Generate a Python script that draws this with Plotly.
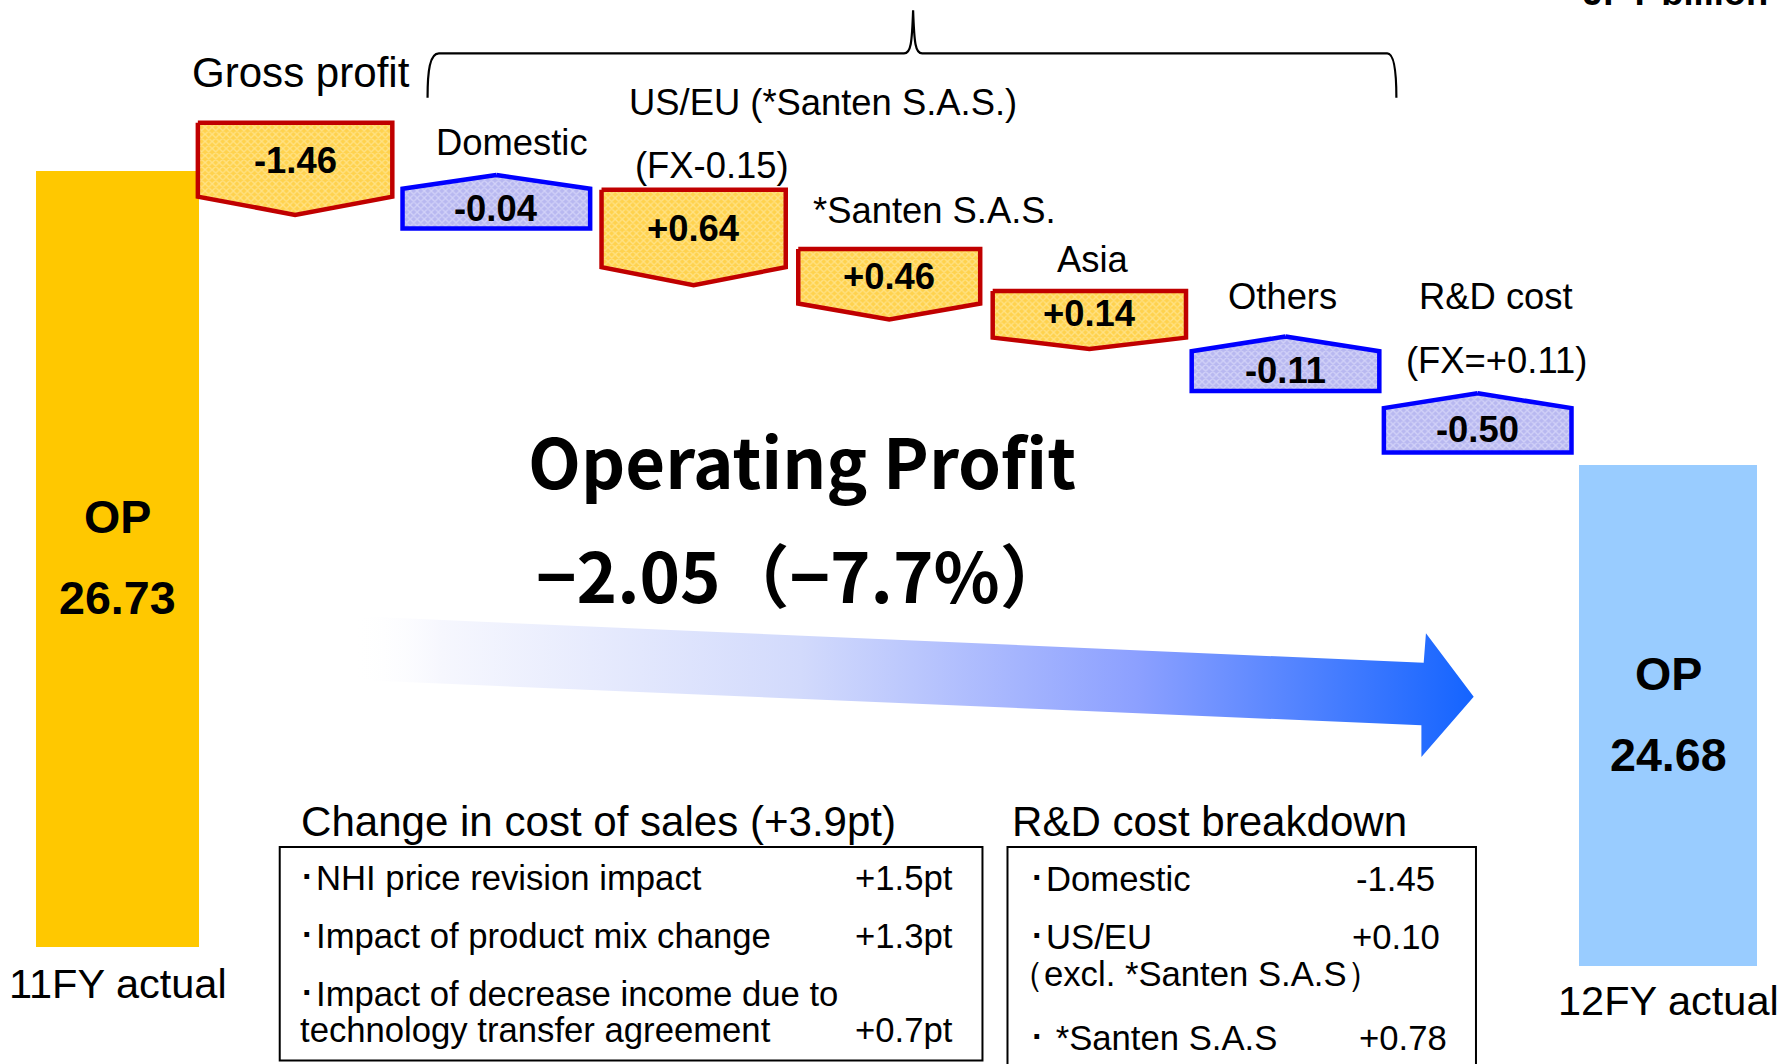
import plotly.graph_objects as go

# ---------------- data ----------------
unit_label = "JPY billion"
bar_labels = ["11FY actual", "12FY actual"]
bar_values = [26.73, 24.68]

items = ["Gross profit", "Domestic", "US/EU (*Santen S.A.S.)", "*Santen S.A.S.",
         "Asia", "Others", "R&D cost"]
item_values = [-1.46, -0.04, 0.64, 0.46, 0.14, -0.11, -0.50]
item_notes = ["", "", "(FX-0.15)", "", "", "", "(FX=+0.11)"]
item_kind = ["down", "up", "down", "down", "down", "up", "up"]

op_title = "Operating Profit"

cos_title = "Change in cost of sales (+3.9pt)"
cos_items = ["･NHI price revision impact", "･Impact of product mix change",
             "･Impact of decrease income due to\ntechnology transfer agreement"]
cos_values = [1.5, 1.3, 0.7]

rd_title = "R&D cost breakdown"
rd_items = ["･Domestic", "･US/EU\n（excl. *Santen S.A.S）", "･ *Santen S.A.S"]
rd_values = [-1.45, 0.10, 0.78]

# ---------------- layout (reference units) ----------------
W, H = 1783, 1064
RW, RH = 1568, 936
K = W / RW


def px(n):
    return n * K


FONT = "Liberation Sans, Arial, sans-serif"
JFONT = "Noto Sans CJK JP, sans-serif"

bar_x0 = [32, 1389]
bar_x1 = [175, 1545]
bar_top = [150, 409]
bar_bot = [833, 850]
bar_colors = ["#FFC800", "#99CCFF"]
bar_op_y = [455, 593]
bar_val_y = [526, 664]
bar_lab_y = [865, 880]

box_x0 = [174, 354, 529, 702, 873, 1048, 1217]
box_x1 = [345, 519, 691, 862, 1043, 1213, 1382]
box_top = [108, 154, 167, 219, 256, 296, 346]
box_mid = [173, 166, 235, 267, 297, 309, 359]
box_bot = [189, 201, 251, 281, 307, 344, 398]
box_text_y = [141, 183, 201, 243, 276, 326, 378]

label_x = [265, 450, 724, 822, 961, 1128, 1316]
label_y = [64, 125, 90, 185, 228, 261, 261]
label_size = [37, 32, 32, 32, 32, 32, 32]
note_x = [0, 0, 626, 0, 0, 0, 1316]
note_y = [0, 0, 146, 0, 0, 0, 317]

styles = {
    "down": dict(line="#C00000", bg="#FFD24D", fg="#FFF2C0"),
    "up": dict(line="#0000FF", bg="#B8B8F0", fg="#ECECFF"),
}

arrow_x = [310, 1252, 1254, 1296, 1250, 1250, 310]
arrow_y = [542, 583, 557, 613, 666, 638, 598]

fig = go.Figure()

# summary bars
for i in range(2):
    fig.add_trace(go.Bar(
        x=[(bar_x0[i] + bar_x1[i]) / 2], y=[bar_bot[i] - bar_top[i]], base=[bar_top[i]],
        width=[bar_x1[i] - bar_x0[i]], marker=dict(color=bar_colors[i], line=dict(width=0)),
        hoverinfo="skip", showlegend=False))

# gradient arrow
fig.add_trace(go.Scatter(
    x=arrow_x, y=arrow_y, mode="lines", fill="toself", line=dict(width=0, color="rgba(0,0,0,0)"),
    fillgradient=dict(type="horizontal", colorscale=[
        [0.0, "rgba(255,255,255,0)"], [0.08, "rgb(246,247,254)"], [0.4, "rgb(210,218,252)"],
        [0.7, "rgb(140,160,255)"], [1.0, "rgb(20,100,255)"]]),
    hoverinfo="skip", showlegend=False))

# pentagon boxes
for i, v in enumerate(item_values):
    x0, x1 = box_x0[i], box_x1[i]
    xc = (x0 + x1) / 2
    if item_kind[i] == "down":
        xs = [x0, x1, x1, xc, x0, x0]
        ys = [box_top[i], box_top[i], box_mid[i], box_bot[i], box_mid[i], box_top[i]]
    else:
        xs = [xc, x1, x1, x0, x0, xc]
        ys = [box_top[i], box_mid[i], box_bot[i], box_bot[i], box_mid[i], box_top[i]]
    st = styles[item_kind[i]]
    fig.add_trace(go.Scatter(
        x=xs, y=ys, mode="lines", fill="toself",
        line=dict(color=st["line"], width=4.5),
        fillcolor=st["bg"],
        fillpattern=dict(shape="x", bgcolor=st["bg"], fgcolor=st["fg"], size=5, solidity=0.45),
        hoverinfo="skip", showlegend=False))

ann = []


def text(x, y, s, size, bold=False, xanchor="center", font=FONT, color="#000000"):
    ann.append(dict(
        x=x, y=y, xref="x", yref="y", text=("<b>%s</b>" % s) if bold else s,
        showarrow=False, xanchor=xanchor, yanchor="middle",
        font=dict(family=font, size=px(size), color=color)))


# box values and labels
for i, v in enumerate(item_values):
    text((box_x0[i] + box_x1[i]) / 2, box_text_y[i], f"{v:+.2f}", 32, bold=True)
    text(label_x[i], label_y[i], items[i], label_size[i])
    if item_notes[i]:
        text(note_x[i], note_y[i], item_notes[i], 32)

# summary bar texts
for i in range(2):
    xc = (bar_x0[i] + bar_x1[i]) / 2
    text(xc, bar_op_y[i], "OP", 41, bold=True)
    text(xc, bar_val_y[i], f"{bar_values[i]:.2f}", 41, bold=True)
    text(xc, bar_lab_y[i], bar_labels[i], 36.5)

# operating profit headline
chg = bar_values[1] - bar_values[0]
pct = chg / bar_values[0] * 100
text(705, 404, op_title, 60.5, bold=True, font=JFONT)
text(706, 504, f"{chg:.2f}（{pct:.1f}%）".replace("-", "−"), 60.5, bold=True, font=JFONT)

# unit label (cut off at top of the page, as in the source slide)
ann.append(dict(x=1390 / RW, y=1 + 7 / RH, xref="paper", yref="paper", text="<b>%s</b>" % unit_label,
                showarrow=False, xanchor="left", yanchor="middle",
                font=dict(family=FONT, size=px(32), color="#000000")))

# cost of sales box
text(263, 723, cos_title, 37, xanchor="left")
cos_row_y = [772, 823, 874]
for i, s in enumerate(cos_items):
    lines = s.split("\n")
    for j, ln in enumerate(lines):
        text(260 if j == 0 else 262, cos_row_y[i] + 32 * j, ln, 30.5, xanchor="left")
    text(840, cos_row_y[i] + 32 * (len(lines) - 1), f"{cos_values[i]:+.1f}pt", 30.5, xanchor="right")

# R&D breakdown box
text(888, 723, rd_title, 37, xanchor="left")
rd_row_y = [773, 824, 913]
rd_val_x = [1264, 1268, 1274]
for i, s in enumerate(rd_items):
    lines = s.split("\n")
    for j, ln in enumerate(lines):
        text(902 if j == 0 else 886, rd_row_y[i] + 33 * j, ln, 30.5, xanchor="left")
    text(rd_val_x[i], rd_row_y[i], f"{rd_values[i]:+.2f}", 30.5, xanchor="right")

shapes = [
    dict(type="rect", xref="x", yref="y", x0=246, x1=864, y0=745, y1=933,
         line=dict(color="#000000", width=2), fillcolor="rgba(0,0,0,0)", layer="below"),
    dict(type="rect", xref="x", yref="y", x0=886, x1=1298, y0=745, y1=960,
         line=dict(color="#000000", width=2), fillcolor="rgba(0,0,0,0)", layer="below"),
    dict(type="path", xref="x", yref="y",
         path="M 376,86 C 376,62 378,47 386,47 L 795,47 C 801,47 802,38 803,9 "
              "C 804,38 805,47 811,47 L 1220,47 C 1226,47 1228,62 1228,86",
         line=dict(color="#000000", width=2.2)),
]

fig.update_layout(
    width=W, height=H, margin=dict(l=0, r=0, t=0, b=0),
    paper_bgcolor="white", plot_bgcolor="white", showlegend=False,
    xaxis=dict(range=[0, RW], visible=False, fixedrange=True),
    yaxis=dict(range=[RH, 0], visible=False, fixedrange=True),
    annotations=ann, shapes=shapes, barmode="overlay", bargap=0,
)

fig.write_html("out.html", config={"displayModeBar": False},
               post_script="document.body.style.margin='0';document.body.style.overflow='hidden';")
